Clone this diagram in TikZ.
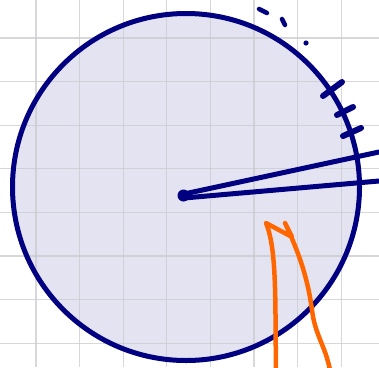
\documentclass[tikz,border=0pt]{standalone}
\usetikzlibrary{positioning}
\definecolor{inknavy}{RGB}{0,0,128}
\definecolor{inkorange}{RGB}{255,102,0}
\definecolor{gridgray}{RGB}{200,200,205}

\begin{document}
\begin{tikzpicture}[
	x=1pt, y=-1pt,
	gridline/.style={draw=gridgray, line width=1.1pt, opacity=0.7},
	pen/.style={draw=inknavy, line width=5pt, line cap=round, line join=round},
	marker/.style={draw=inkorange, line width=4.5pt, line cap=round, line join=round}
	]
	
	\useasboundingbox (0,0) rectangle (379,367);
	
	% disc
	\coordinate (O) at (186,187);
	\fill[inknavy, opacity=0.11] (O) circle (173.5);
	
	\foreach \k in {0,...,7} {
		\draw[gridline] (36+43.6*\k,0) -- (36+43.6*\k,367);
		\draw[gridline] (0,38+43.6*\k) -- (379,38+43.6*\k);
	}
	
	\draw[pen] (O) circle (173.5);
	
	% centre dot and the two rays
	\fill[inknavy] (183.5,195.5) circle (6);
	\coordinate (A) at (379,152);
	\coordinate (B) at (379,181);
	\draw[pen] (184,194) -- (A);
	\draw[pen] (184,198) -- (B);
	
	% ticks on the rim
	\draw[pen, line width=6pt] (323,96) -- (342,82);
	\draw[pen, line width=6pt] (337,115) -- (353,107);
	\draw[pen, line width=6pt] (343,136) -- (361,128);
	
	% dashes outside
	\draw[pen, line width=4.5pt] (259,9) -- (267,13);
	\draw[pen, line width=4.5pt] (282,19) -- (285,25);
	\fill[inknavy] (306,43) circle (2.6);
	
	% orange stroke
	\draw[marker] (276,370) .. controls (275,300) and (277,250) .. (266,223)
		-- (292,237) -- (285,223)
		.. controls (300,255) and (308,280) .. (312,310)
		.. controls (315,335) and (325,345) .. (330,370);
	
\end{tikzpicture}
\end{document}
